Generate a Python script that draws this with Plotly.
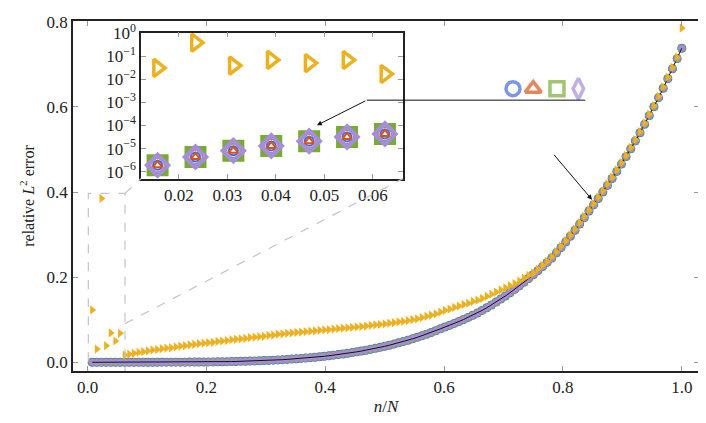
import plotly.graph_objects as go

N = 128
n_vals = list(range(1, N + 1))
x_frac = [n / N for n in n_vals]

# error of the four (coinciding) methods
err_main = [
    8e-7, 1.9e-6, 4.3e-6, 8.1e-6, 1.3e-5, 2.1e-5, 3.2e-5, 4.3e-5,
    5.6e-5, 7.0e-5, 8.7e-5, 1.05e-4, 1.25e-4, 1.47e-4, 1.71e-4, 1.98e-4,
    2.26e-4, 2.56e-4, 2.88e-4, 3.2e-4, 3.5e-4, 4.0e-4, 4.7e-4, 5.5e-4,
    6.6e-4, 7.8e-4, 9.2e-4, 1.07e-3, 1.25e-3, 1.44e-3, 1.66e-3, 1.90e-3,
    2.17e-3, 2.47e-3, 2.80e-3, 3.16e-3, 3.55e-3, 3.98e-3, 4.46e-3, 4.97e-3,
    5.52e-3, 6.13e-3, 6.78e-3, 7.48e-3, 8.24e-3, 9.06e-3, 9.94e-3, 0.01088,
    0.01189, 0.01297, 0.01412, 0.01535, 0.01666, 0.01805, 0.01953, 0.02111,
    0.02277, 0.02454, 0.02641, 0.02839, 0.03049, 0.03269, 0.03502, 0.03747,
    0.04006, 0.04278, 0.04563, 0.04863, 0.05179, 0.05509, 0.05855, 0.06218,
    0.06598, 0.06995, 0.0741, 0.0785, 0.0830, 0.0868, 0.0913, 0.0958,
    0.1006, 0.1055, 0.1106, 0.1158, 0.1219, 0.1281, 0.1347, 0.1414,
    0.1485, 0.1558, 0.1634, 0.1712, 0.1794, 0.1878, 0.1966, 0.2056,
    0.2150, 0.2247, 0.2347, 0.2451, 0.2571, 0.2697, 0.2827, 0.2962,
    0.3102, 0.3247, 0.3398, 0.3555, 0.3698, 0.3847, 0.3999, 0.4156,
    0.4318, 0.4485, 0.4657, 0.4833, 0.5015, 0.5202, 0.5394, 0.5592,
    0.5795, 0.6004, 0.6218, 0.6439, 0.6665, 0.6897, 0.7136, 0.7380,
]

# error of the fifth (orange) method
err_orange = [
    0.123, 0.031, 0.385, 0.039, 0.069, 0.050, 0.068, 0.017,
    0.019, 0.021, 0.023, 0.025, 0.027, 0.029, 0.030, 0.032,
    0.033, 0.034, 0.036, 0.038, 0.039, 0.041, 0.042, 0.044,
    0.045, 0.046, 0.047, 0.049, 0.050, 0.051, 0.053, 0.054,
    0.055, 0.056, 0.058, 0.059, 0.060, 0.061, 0.063, 0.064,
    0.066, 0.067, 0.068, 0.069, 0.070, 0.071, 0.072, 0.073,
    0.074, 0.075, 0.076, 0.077, 0.078, 0.079, 0.080, 0.081,
    0.082, 0.083, 0.084, 0.085, 0.087, 0.088, 0.089, 0.090,
    0.092, 0.093, 0.095, 0.096, 0.098, 0.100, 0.102, 0.105,
    0.108, 0.111, 0.114, 0.118, 0.122, 0.125, 0.129, 0.132,
    0.136, 0.139, 0.143, 0.146, 0.150, 0.155, 0.160, 0.165,
    0.170, 0.175, 0.180, 0.185, 0.191, 0.198, 0.204, 0.210,
    0.219, 0.228, 0.237, 0.248, 0.260, 0.273, 0.286, 0.299,
    0.313, 0.328, 0.343, 0.358, 0.373, 0.388, 0.403, 0.419,
    0.435, 0.452, 0.469, 0.486, 0.505, 0.523, 0.542, 0.562,
    0.583, 0.603, 0.625, 0.647, 0.670, 0.693, 0.717, 0.785,
]

inset_slice = slice(1, 8)  # n = 2 .. 8

x_ticks = [0.0, 0.2, 0.4, 0.6, 0.8, 1.0]
y_ticks = [0.0, 0.2, 0.4, 0.6, 0.8]
inset_x_ticks = [0.02, 0.03, 0.04, 0.05, 0.06]
inset_y_ticks = [1e-6, 1e-5, 1e-4, 1e-3, 1e-2, 1e-1, 1]
inset_y_text = ["10<sup>−6</sup>", "10<sup>−5</sup>", "10<sup>−4</sup>", "10<sup>−3</sup>",
                "10<sup>−2</sup>", "10<sup>−1</sup>", "10<sup>0</sup>"]

BLUE = "#4169E1"
RED = "#D95319"
GREEN = "#77AC30"
PURPLE = "#A78DD8"
ORANGE = "#EDB120"
FONT = "Liberation Serif, Times New Roman, serif"

fig = go.Figure()

# main plot
main_specs = [("circle", BLUE, 9), ("triangle-up", RED, 7), ("square", GREEN, 7), ("diamond", PURPLE, 6.5)]
for sym, col, sz in main_specs:
    fig.add_trace(go.Scatter(x=x_frac, y=err_main, mode="markers",
                             marker=dict(symbol=sym, color=col, size=sz, line=dict(width=0)),
                             showlegend=False, xaxis="x", yaxis="y"))
fig.add_trace(go.Scatter(x=x_frac, y=err_main, mode="lines", line=dict(color="#111111", width=1),
                         showlegend=False, xaxis="x", yaxis="y"))
fig.add_trace(go.Scatter(x=x_frac, y=err_orange, mode="markers",
                         marker=dict(symbol="triangle-right", color=ORANGE, size=8, line=dict(width=0)),
                         showlegend=False, xaxis="x", yaxis="y"))

# inset
xi = x_frac[inset_slice]
fig.add_trace(go.Scatter(x=xi, y=err_orange[inset_slice], mode="markers",
                         marker=dict(symbol="triangle-right-open", color=ORANGE, size=15, line=dict(width=3.5, color=ORANGE)),
                         showlegend=False, xaxis="x2", yaxis="y2"))
inset_specs = [("circle-open", BLUE, 9, 2), ("square-open", GREEN, 17, 5),
               ("diamond-open", PURPLE, 16, 4.5), ("triangle-up-open", RED, 8, 2)]
for sym, col, sz, lw in inset_specs:
    fig.add_trace(go.Scatter(x=xi, y=err_main[inset_slice], mode="markers",
                             marker=dict(symbol=sym, color=col, size=sz, line=dict(width=lw, color=col)),
                             showlegend=False, xaxis="x2", yaxis="y2"))

# legend-like key of the four methods
key_x = [0.716, 0.750, 0.790, 0.826]
key_y = [0.643] * 4
fig.add_trace(go.Scatter(x=key_x, y=key_y, mode="markers",
                         marker=dict(symbol=["circle-open", "triangle-up-open", "square-open", "diamond-tall-open"],
                                     color=[BLUE, RED, GREEN, PURPLE], size=[14, 14, 14, 15],
                                     line=dict(width=3.5, color=[BLUE, RED, GREEN, PURPLE])),
                         showlegend=False, xaxis="x", yaxis="y", cliponaxis=False))

axis_common = dict(showline=True, linecolor="#222222", linewidth=1.5, mirror="ticks",
                   ticks="inside", ticklen=5, tickcolor="#999999", showgrid=False, zeroline=False,
                   tickfont=dict(family=FONT, size=17, color="#222222"))

# page body has an 8px margin: figure is sized/offset to land on the reference pixels
fig.update_layout(
    width=698, height=415,
    margin=dict(l=65, r=7, t=1, b=52),
    paper_bgcolor="white", plot_bgcolor="white",
    font=dict(family=FONT, size=17, color="#222222"),
    xaxis=dict(range=[-0.0245, 1.029], tickvals=x_ticks, ticktext=[f"{v:.1f}" for v in x_ticks],
               title=dict(text="<i>n</i>/<i>N</i>", font=dict(family=FONT, size=17), standoff=4),
               **axis_common),
    yaxis=dict(range=[-0.0205, 0.802], tickvals=y_ticks, ticktext=[f"{v:.1f}" for v in y_ticks],
               title=dict(text="relative <i>L</i><sup>2</sup> error", font=dict(family=FONT, size=16), standoff=8),
               **axis_common),
    xaxis2=dict(domain=[0.1086, 0.527], anchor="y2", range=[0.0122, 0.0662],
                tickvals=inset_x_ticks, ticktext=[f"{v:.2f}" for v in inset_x_ticks], **axis_common),
    yaxis2=dict(domain=[0.5497, 0.9669], anchor="x2", type="log", range=[-6.3, 0.02],
                tickvals=inset_y_ticks, ticktext=inset_y_text, **axis_common),
    showlegend=False,
)

grey = dict(color="#c4c4c4", width=1.2, dash="dash")
fig.add_shape(type="rect", xref="x", yref="y", x0=0.0013, x1=0.063, y0=-0.03, y1=0.397, line=grey)
fig.add_shape(type="line", xref="paper", yref="paper", x0=0.0831, y0=0.5075, x1=0.1086, y1=0.5497, line=grey)
fig.add_shape(type="line", xref="paper", yref="paper", x0=0.0831, y0=0.1354, x1=0.527, y1=0.5497, line=grey)
fig.add_shape(type="line", xref="x", yref="y", x0=0.470, x1=0.8375, y0=0.616, y1=0.616,
              line=dict(color="#111111", width=1), layer="above")

fig.add_annotation(x=0.386, y=0.557, ax=0.470, ay=0.616, xref="x", yref="y", axref="x", ayref="y",
                   text="", showarrow=True, arrowhead=2, arrowsize=1, arrowwidth=1, arrowcolor="#111111")
fig.add_annotation(x=0.849, y=0.382, ax=0.783, ay=0.491, xref="x", yref="y", axref="x", ayref="y",
                   text="", showarrow=True, arrowhead=2, arrowsize=1, arrowwidth=1, arrowcolor="#111111")

fig.write_html("out.html")
